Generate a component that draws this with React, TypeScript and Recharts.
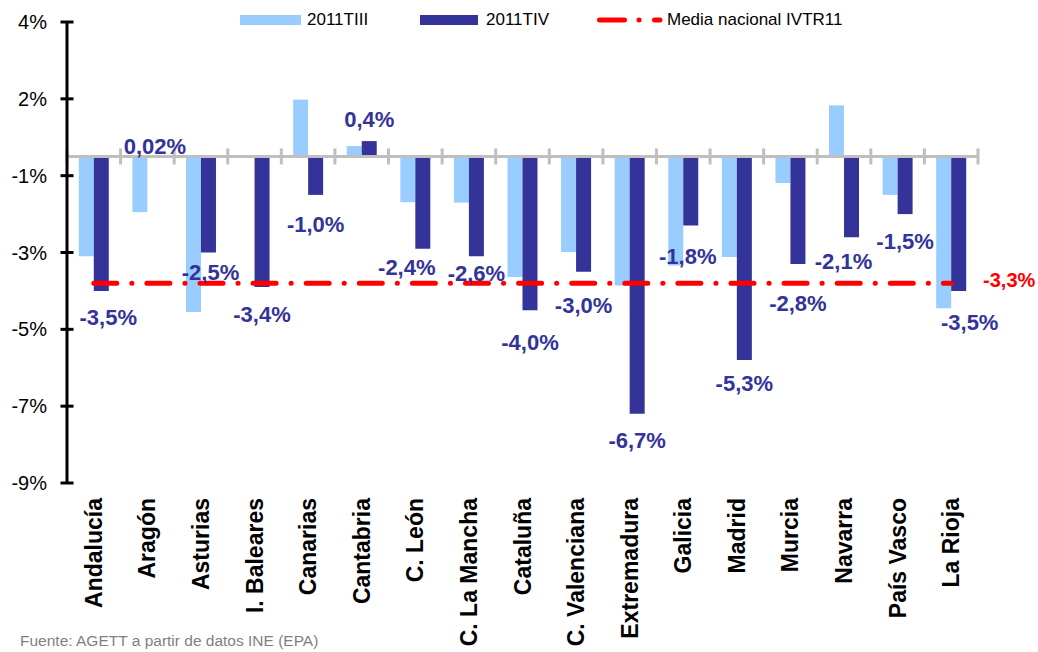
import { ComposedChart, Bar, Line, XAxis, YAxis, ReferenceLine, LabelList } from "recharts";

const regions = [
  "Andalucía",
  "Aragón",
  "Asturias",
  "I. Baleares",
  "Canarias",
  "Cantabria",
  "C. León",
  "C. La Mancha",
  "Cataluña",
  "C. Valenciana",
  "Extremadura",
  "Galicia",
  "Madrid",
  "Murcia",
  "Navarra",
  "País Vasco",
  "La Rioja",
];

// 2011TIII (light blue), 2011TIV from the data labels
const tercerTrim = [-2.6, -1.45, -4.05, null, 1.48, 0.27, -1.19, -1.2, -3.14, -2.49, -3.36, -2.84, -2.62, -0.69, 1.33, -1.0, -3.95];
const cuartoTrim = [-3.5, 0.02, -2.5, -3.4, -1.0, 0.4, -2.4, -2.6, -4.0, -3.0, -6.7, -1.8, -5.3, -2.8, -2.1, -1.5, -3.5];
const mediaNacional = -3.3;

const yTicks = [3.5, 1.5, -0.5, -2.5, -4.5, -6.5, -8.5];
const yTickLabels = ["4%", "2%", "-1%", "-3%", "-5%", "-7%", "-9%"];

const data = regions.map((region, i) => ({
  region,
  tiii: tercerTrim[i],
  tiv: cuartoTrim[i],
  media: mediaNacional,
}));

const DARK = "#333399";
const LIGHT = "#99CCFF";
const RED = "#FF0000";
const FONT = "'Liberation Sans', Arial, sans-serif";

// manual label nudges, like the hand-placed labels in the original
const labelNudge: Record<string, { dx?: number; dy?: number }> = {
  "Andalucía": { dx: 7 },
  "Aragón": { dy: 13 },
  "Asturias": { dx: 2, dy: -7 },
  "Canarias": { dy: 3 },
  "C. León": { dx: -16, dy: -8 },
  "C. La Mancha": { dy: -10 },
  "Cataluña": { dy: 5 },
  "C. Valenciana": { dy: 7 },
  "Galicia": { dx: -3, dy: 4 },
  "Madrid": { dy: -4 },
  "Murcia": { dy: 12 },
  "Navarra": { dx: -8, dy: -3 },
  "La Rioja": { dx: 11, dy: 5 },
};

const fmt = (v: number) =>
  (Math.abs(v) < 0.1 ? v.toFixed(2) : v.toFixed(1)).replace(".", ",") + "%";

function CategoryTick({ x, y, payload }: any) {
  return (
    <g transform={`translate(${x},${y})`}>
      <text
        transform="rotate(-90)"
        textAnchor="end"
        dominantBaseline="central"
        fontSize={23}
        fontWeight="bold"
        fill="#000"
      >
        {payload.value}
      </text>
    </g>
  );
}

function ValueTick({ x, y, payload }: any) {
  const idx = yTicks.indexOf(payload.value);
  const axisX = x + 20;
  return (
    <g>
      <line x1={axisX - 6.5} x2={axisX + 6.5} y1={y} y2={y} stroke="#000" strokeWidth={3} />
      <text x={x} y={y} textAnchor="end" dominantBaseline="central" fontSize={20} fill="#000">
        {yTickLabels[idx]}
      </text>
    </g>
  );
}

const renderZeroAxis = (p: any) => {
  const { x1, x2, y1 } = p;
  const step = (x2 - x1) / regions.length;
  return (
    <g>
      <line x1={x1} x2={x2} y1={y1} y2={y1} stroke="#BFBFBF" strokeWidth={3} />
      {Array.from({ length: regions.length + 1 }).map((_, i) => (
        <line
          key={i}
          x1={x1 + i * step}
          x2={x1 + i * step}
          y1={y1 - 8}
          y2={y1 + 8}
          stroke="#BFBFBF"
          strokeWidth={3}
        />
      ))}
    </g>
  );
};

const renderBarLabel = (props: any) => {
  const vb = props.viewBox || props;
  const { x, y, width, height } = vb;
  const value = Number(props.value);
  const region = regions[props.index];
  const nudge = labelNudge[region] || {};
  const end = value < 0 ? Math.max(y, y + height) : Math.min(y, y + height);
  const cy = (value < 0 ? end + 27 : end - 22) + (nudge.dy || 0);
  const cx = x + width / 2 + (nudge.dx || 0);
  return (
    <text
      key={`lbl-${props.index}`}
      x={cx}
      y={cy}
      textAnchor="middle"
      dominantBaseline="central"
      fontSize={22}
      fontWeight="bold"
      fill={DARK}
    >
      {fmt(value)}
    </text>
  );
};

const renderMediaLabel = (props: any) => {
  if (props.index !== regions.length - 1) return null;
  const vb = props.viewBox || props;
  return (
    <text
      key="media-lbl"
      x={vb.x + 58}
      y={vb.y - 3}
      textAnchor="middle"
      dominantBaseline="central"
      fontSize={20}
      fontWeight="bold"
      fill={RED}
    >
      {fmt(mediaNacional)}
    </text>
  );
};

const legendText = { position: "absolute" as const, top: 10, height: 20, lineHeight: "20px", fontSize: 17, color: "#000", whiteSpace: "nowrap" as const };

export default function App() {
  return (
    <div
      style={{
        position: "absolute",
        left: 0,
        top: 0,
        width: 1038,
        height: 652,
        overflow: "hidden",
        background: "#ffffff",
        fontFamily: FONT,
      }}
    >
      <ComposedChart
        width={1038}
        height={652}
        data={data}
        margin={{ top: 22, right: 60, bottom: 0, left: 0 }}
        barGap={0}
        barCategoryGap="22%"
      >
        <XAxis
          dataKey="region"
          interval={0}
          axisLine={false}
          tickLine={false}
          tickSize={0}
          tickMargin={15}
          height={169}
          tick={(p: any) => <CategoryTick {...p} />}
        />
        <YAxis
          type="number"
          domain={[-8.5, 3.5]}
          ticks={yTicks}
          width={67}
          allowDataOverflow
          axisLine={{ stroke: "#000", strokeWidth: 3 }}
          tickLine={false}
          tickSize={0}
          tickMargin={20}
          tick={(p: any) => <ValueTick {...p} />}
        />
        <Bar dataKey="tiii" name="2011TIII" fill={LIGHT} isAnimationActive={false} />
        <Bar dataKey="tiv" name="2011TIV" fill={DARK} isAnimationActive={false}>
          <LabelList dataKey="tiv" content={renderBarLabel} />
        </Bar>
        <ReferenceLine y={0} shape={renderZeroAxis} />
        <Line
          dataKey="media"
          name="Media nacional IVTR11"
          stroke={RED}
          strokeWidth={5}
          strokeDasharray="23 15 0.1 15"
          strokeLinecap="round"
          dot={false}
          activeDot={false}
          isAnimationActive={false}
        >
          <LabelList dataKey="media" content={renderMediaLabel} />
        </Line>
      </ComposedChart>

      {/* leyenda */}
      <div style={{ position: "absolute", left: 240, top: 15, width: 61, height: 10, background: LIGHT }} />
      <div style={{ ...legendText, left: 307 }}>2011TIII</div>
      <div style={{ position: "absolute", left: 420, top: 15, width: 58, height: 10, background: DARK }} />
      <div style={{ ...legendText, left: 486 }}>2011TIV</div>
      <svg style={{ position: "absolute", left: 597, top: 15 }} width={68} height={10}>
        <line
          x1={2.5}
          x2={63}
          y1={5}
          y2={5}
          stroke={RED}
          strokeWidth={5}
          strokeLinecap="round"
          strokeDasharray="25 14.5 0.1 15.4 30"
        />
      </svg>
      <div style={{ ...legendText, left: 667 }}>Media nacional IVTR11</div>

      <div
        style={{
          position: "absolute",
          left: 20,
          top: 632,
          fontSize: 15.5,
          lineHeight: "18px",
          color: "#7F7F7F",
          whiteSpace: "nowrap",
        }}
      >
        Fuente: AGETT a partir de datos INE (EPA)
      </div>
    </div>
  );
}
